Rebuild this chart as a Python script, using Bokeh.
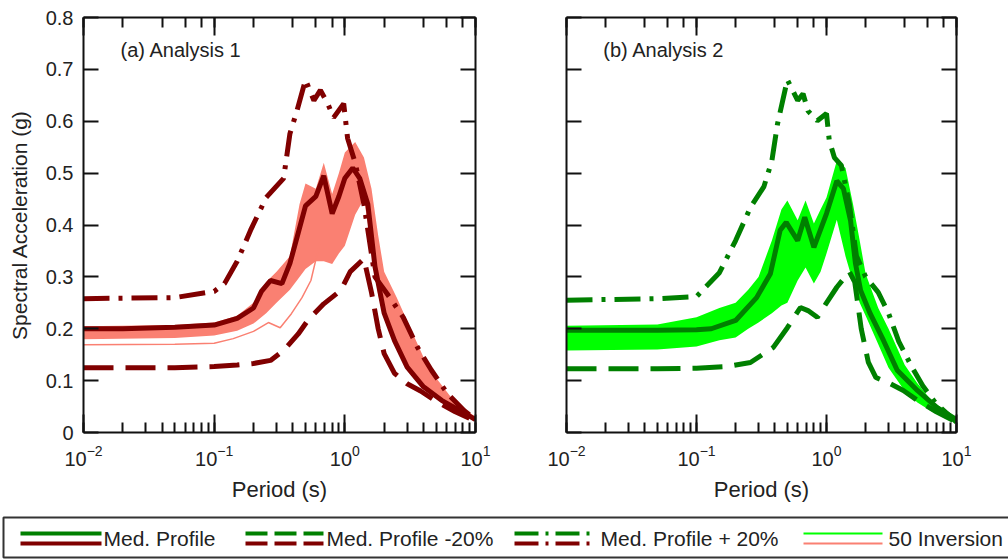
from bokeh.plotting import figure
from bokeh.models import (Range1d, FixedTicker, LinearAxis, LogAxis, LogTicker,
                          CustomJSTickFormatter, Label, ColumnDataSource)
from bokeh.layouts import column, row
from bokeh.embed import file_html
from bokeh.resources import INLINE
from bokeh.core.properties import value

# ---------------- data ----------------
y_ticks = [0, 0.1, 0.2, 0.3, 0.4, 0.5, 0.6, 0.7, 0.8]
y_tick_labels = ["0", "0.1", "0.2", "0.3", "0.4", "0.5", "0.6", "0.7", "0.8"]

# Analysis 1 (red)
a1_med_T = [0.01, 0.02, 0.05, 0.1, 0.15, 0.2, 0.23, 0.27, 0.33, 0.38, 0.44, 0.5, 0.6, 0.69, 0.8,
            0.9, 1.0, 1.15, 1.3, 1.5, 1.7, 2.0, 2.4, 3.0, 4.0, 5.5, 7.5, 10]
a1_med_V = [0.200, 0.200, 0.203, 0.207, 0.220, 0.240, 0.272, 0.293, 0.287, 0.326, 0.385, 0.437, 0.455,
            0.495, 0.422, 0.455, 0.490, 0.510, 0.490, 0.440, 0.320, 0.230, 0.177, 0.126, 0.088, 0.062,
            0.043, 0.025]
a1_m20_T = [0.01, 0.05, 0.1, 0.15, 0.2, 0.27, 0.34, 0.44, 0.52, 0.69, 0.93, 1.1, 1.4, 1.6, 1.8, 2.0,
            2.4, 3.0, 3.8, 5.0, 7.0, 10]
a1_m20_V = [0.125, 0.125, 0.127, 0.130, 0.133, 0.139, 0.158, 0.190, 0.216, 0.248, 0.274, 0.310, 0.335,
            0.270, 0.200, 0.152, 0.114, 0.094, 0.080, 0.060, 0.040, 0.022]
a1_p20_T = [0.01, 0.05, 0.1, 0.12, 0.15, 0.19, 0.25, 0.34, 0.38, 0.43, 0.5, 0.58, 0.65, 0.74, 0.82,
            0.98, 1.05, 1.2, 1.4, 1.7, 2.1, 2.8, 3.6, 4.6, 6.1, 8.2, 10]
a1_p20_V = [0.258, 0.260, 0.272, 0.287, 0.330, 0.390, 0.453, 0.490, 0.576, 0.620, 0.680, 0.640, 0.660,
            0.634, 0.607, 0.634, 0.567, 0.520, 0.440, 0.300, 0.268, 0.222, 0.164, 0.120, 0.075, 0.042,
            0.025]
band_T = [0.01, 0.05, 0.1, 0.15, 0.2, 0.25, 0.3, 0.38, 0.45, 0.5, 0.6, 0.69, 0.8, 0.9, 1.0, 1.2, 1.4,
          1.6, 1.8, 2.0, 2.5, 3.0, 4.0, 5.0, 6.5, 8.0, 10]
a1_inv_hi = [0.205, 0.207, 0.212, 0.225, 0.250, 0.290, 0.310, 0.340, 0.440, 0.480, 0.470, 0.520, 0.460,
             0.500, 0.540, 0.560, 0.530, 0.470, 0.380, 0.310, 0.260, 0.215, 0.145, 0.105, 0.068, 0.048,
             0.030]
a1_inv_lo = [0.180, 0.182, 0.187, 0.196, 0.210, 0.230, 0.250, 0.275, 0.300, 0.315, 0.330, 0.330, 0.325,
             0.345, 0.360, 0.420, 0.450, 0.360, 0.265, 0.225, 0.165, 0.122, 0.085, 0.065, 0.048, 0.035,
             0.022]
a1_out_T = [0.01, 0.05, 0.1, 0.14, 0.2, 0.26, 0.32, 0.39, 0.47, 0.55, 0.65]
a1_out_V = [0.169, 0.170, 0.172, 0.181, 0.195, 0.212, 0.202, 0.229, 0.260, 0.293, 0.370]

# Analysis 2 (green)
a2_med_T = [0.01, 0.05, 0.1, 0.13, 0.2, 0.29, 0.37, 0.44, 0.49, 0.6, 0.68, 0.8, 1.0, 1.2, 1.35, 1.53,
            1.67, 1.83, 2.17, 2.75, 3.5, 5.0, 7.1, 10]
a2_med_V = [0.197, 0.197, 0.198, 0.200, 0.216, 0.260, 0.306, 0.390, 0.405, 0.370, 0.415, 0.357, 0.422,
            0.485, 0.470, 0.409, 0.326, 0.274, 0.229, 0.177, 0.120, 0.081, 0.048, 0.025]
a2_m20_T = [0.01, 0.05, 0.1, 0.17, 0.26, 0.39, 0.5, 0.63, 0.72, 0.85, 1.0, 1.2, 1.5, 1.65, 1.85, 2.1,
            2.4, 3.1, 3.9, 5.0, 7.0, 10]
a2_m20_V = [0.123, 0.123, 0.124, 0.127, 0.135, 0.164, 0.202, 0.241, 0.235, 0.222, 0.250, 0.280, 0.310,
            0.290, 0.200, 0.135, 0.106, 0.094, 0.081, 0.062, 0.040, 0.020]
a2_p20_T = [0.01, 0.05, 0.1, 0.15, 0.2, 0.26, 0.33, 0.38, 0.42, 0.5, 0.6, 0.66, 0.72, 0.85, 1.0, 1.05,
            1.15, 1.3, 1.5, 1.7, 2.0, 2.5, 3.0, 3.6, 4.5, 5.5, 7.0, 10]
a2_p20_V = [0.255, 0.258, 0.262, 0.308, 0.370, 0.434, 0.474, 0.524, 0.595, 0.680, 0.640, 0.653, 0.620,
            0.601, 0.615, 0.563, 0.530, 0.515, 0.440, 0.340, 0.300, 0.270, 0.230, 0.175, 0.128, 0.090,
            0.055, 0.020]
a2_inv_hi = [0.206, 0.208, 0.222, 0.240, 0.250, 0.275, 0.300, 0.370, 0.430, 0.447, 0.409, 0.447, 0.403,
             0.430, 0.453, 0.524, 0.510, 0.440, 0.370, 0.306, 0.240, 0.200, 0.130, 0.095, 0.060, 0.045,
             0.028]
a2_inv_lo = [0.158, 0.160, 0.166, 0.178, 0.183, 0.200, 0.212, 0.230, 0.245, 0.250, 0.293, 0.318, 0.287,
             0.310, 0.345, 0.410, 0.340, 0.290, 0.250, 0.225, 0.170, 0.125, 0.080, 0.058, 0.040, 0.030,
             0.020]

legend_labels = ["Med. Profile", "Med. Profile -20%", "Med. Profile + 20%", "50 Inversion"]

# ---------------- style ----------------
FONT = "Liberation Sans"
RED_D, RED_L = "#800000", "#FA8072"
GRN_D, GRN_L = "#008000", "#00FF00"
DASH = "30 12"
DASHDOT = "26 9 4 9"


def make_panel(width, bl, br, title, dark, light, med, m20, p20, inv_lo, inv_hi, extra=None,
               show_labels=True):
    p = figure(width=width, height=510, x_axis_type="log", output_backend="svg",
               toolbar_location=None, x_range=Range1d(0.01, 10), y_range=Range1d(0, 0.8),
               min_border_left=bl, min_border_right=br, min_border_top=17, min_border_bottom=78)
    p.outline_line_color = None
    p.grid.visible = False
    p.background_fill_color = "white"
    p.border_fill_color = "white"

    src_band = ColumnDataSource(dict(T=band_T, lo=inv_lo, hi=inv_hi))
    p.varea(x="T", y1="lo", y2="hi", source=src_band, fill_color=light)
    if extra is not None:
        p.line(extra[0], extra[1], line_color=light, line_width=1.5)
    p.line(med[0], med[1], line_color=dark, line_width=5)
    p.line(m20[0], m20[1], line_color=dark, line_width=5, line_dash=DASH)
    p.line(p20[0], p20[1], line_color=dark, line_width=5, line_dash=DASHDOT)

    p.add_layout(Label(x=0.0192, y=0.737, text=title, text_font=FONT,
                       text_font_size="20px", text_baseline="middle", text_color="#222222"))

    yax = p.yaxis[0]
    yax.ticker = FixedTicker(ticks=y_ticks)
    if show_labels:
        yax.major_label_overrides = {t: s for t, s in zip(y_ticks, y_tick_labels)}
        yax.axis_label = "Spectral Acceleration (g)"
        yax.axis_label_text_font = FONT
        yax.axis_label_text_font_size = "21px"
        yax.axis_label_text_font_style = "normal"
        yax.axis_label_standoff = 12
    else:
        yax.formatter = CustomJSTickFormatter(code="return ''")
    xax = p.xaxis[0]
    xax.axis_label = "Period (s)"
    xax.axis_label_text_font = FONT
    xax.axis_label_text_font_size = "22px"
    xax.axis_label_text_font_style = "normal"
    xax.axis_label_standoff = 8

    rax = LinearAxis(ticker=FixedTicker(ticks=y_ticks),
                     formatter=CustomJSTickFormatter(code="return ''"))
    tax = LogAxis(ticker=LogTicker(), formatter=CustomJSTickFormatter(code="return ''"))
    p.add_layout(rax, "right")
    p.add_layout(tax, "above")

    for ax in [yax, rax]:
        ax.major_tick_in = 15
        ax.major_tick_out = 0
        ax.minor_tick_in = 0
        ax.minor_tick_out = 0
    for ax in [xax, tax]:
        ax.major_tick_in = 18
        ax.major_tick_out = 0
        ax.minor_tick_in = 10
        ax.minor_tick_out = 0
    for ax in [yax, rax, xax, tax]:
        ax.axis_line_width = 2
        ax.major_tick_line_width = 2
        ax.minor_tick_line_width = 2
        ax.axis_line_color = "#111111"
        ax.major_tick_line_color = "#111111"
        ax.minor_tick_line_color = "#111111"
        ax.major_label_text_font = FONT
        ax.major_label_text_font_size = "20px"
        ax.major_label_text_color = "#222222"
        ax.axis_label_text_color = "#222222"
    yax.major_label_standoff = 10
    xax.major_label_standoff = 12
    rax.major_label_standoff = 0
    tax.major_label_standoff = 0
    return p


p1 = make_panel(500, 83, 25, "(a) Analysis 1", RED_D, RED_L,
                (a1_med_T, a1_med_V), (a1_m20_T, a1_m20_V), (a1_p20_T, a1_p20_V),
                a1_inv_lo, a1_inv_hi, extra=(a1_out_T, a1_out_V))
p2 = make_panel(508, 66, 52, "(b) Analysis 2", GRN_D, GRN_L,
                (a2_med_T, a2_med_V), (a2_m20_T, a2_m20_V), (a2_p20_T, a2_p20_V),
                a2_inv_lo, a2_inv_hi, show_labels=False)
p2.yaxis[0].axis_label = None

# ---------------- legend strip ----------------
leg = figure(width=1008, height=49, output_backend="svg", toolbar_location=None,
             x_range=Range1d(0, 1008), y_range=Range1d(0, 49), min_border=0)
leg.axis.visible = False
leg.grid.visible = False
leg.outline_line_color = None
leg.quad(left=[3], right=[1015], bottom=[2], top=[42], fill_color=None,
         line_color="#333333", line_width=2)

sample_x = [(20, 101), (245, 323), (514, 594), (803, 882)]
text_x = [103, 326, 600, 888]
styles = [dict(line_width=4), dict(line_width=4, line_dash="22 7"),
          dict(line_width=4, line_dash="24 7 3 7"), dict(line_width=2)]
for i, lab in enumerate(legend_labels):
    x0, x1 = sample_x[i]
    st = styles[i]
    top_c = GRN_L if i == 3 else GRN_D
    bot_c = RED_L if i == 3 else RED_D
    leg.line([x0, x1], [26, 26], line_color=top_c, **st)
    leg.line([x0, x1], [16, 16], line_color=bot_c, **st)
    leg.text(x=[text_x[i]], y=[21], text=[lab], text_font=value(FONT), text_font_size="21px",
             text_baseline="middle", text_color="#222222")

layout = column(row(p1, p2), leg)
open("out.html", "w").write(file_html(layout, INLINE))
